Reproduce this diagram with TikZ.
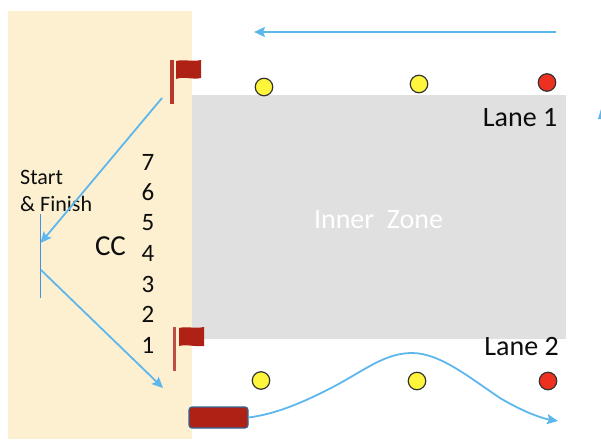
\documentclass[tikz,border=0pt]{standalone}
\usepackage{fontspec}
\setmainfont{Carlito}
\usetikzlibrary{arrows.meta}
\definecolor{sandzone}{HTML}{FCF0D1}
\definecolor{innerzone}{HTML}{E0E0E0}
\definecolor{flagred}{HTML}{AE2114}
\definecolor{arrowblue}{HTML}{5DB7EC}
\definecolor{lineblue}{HTML}{4A8FD8}
\definecolor{coneyellow}{HTML}{FFF53C}
\definecolor{conered}{HTML}{EE3020}
\tikzset{
  cone/.style={circle,draw=black!80,line width=1.2pt,minimum size=17.5pt,inner sep=0pt},
  pathline/.style={arrowblue,line width=1.8pt,-{Stealth[length=11pt,width=10pt,inset=2pt]}},
  lanelabel/.style={font=\fontsize{28}{32}\selectfont,black!95}
}
\begin{document}
\begin{tikzpicture}[x=1pt,y=-1pt]
    \useasboundingbox (0,0) rectangle (601,439);
    % Zones
    \fill[sandzone] (8,11) rectangle (191.5,439);
    \fill[innerzone] (192,95) rectangle (565.5,339);
    \node[white,font=\fontsize{28}{32}\selectfont] (inner) at (378.5,220) {Inner\ \ Zone};

    % Flags
    \fill[flagred!90!white] (170,60) rectangle (173.5,104); % Pole 1
    \fill[flagred] (176,61) .. controls (184,59) and (192,62) .. (201,60) -- (201,78) .. controls (192,80) and (184,76) .. (176,79) -- cycle;
    \fill[flagred!80!white] (172.5,327) rectangle (176,371); % Pole 2
    \fill[flagred] (179,328) .. controls (187,326) and (195,329) .. (204,327) -- (204,346) .. controls (195,347) and (187,344) .. (179,346) -- cycle;

    % Cones lane 1
    \node[cone,fill=coneyellow] (coneA) at (264,87) {};
    \node[cone,fill=coneyellow] (coneB) at (419,84) {};
    \node[cone,fill=conered] (coneC) at (547,82.5) {};
    % Cones lane 2
    \node[cone,fill=coneyellow] (coneD) at (261,380.5) {};
    \node[cone,fill=coneyellow] (coneE) at (417,381) {};
    \node[cone,fill=conered] (coneF) at (548,381) {};

    % Boat
    \node[draw=lineblue!70!black,fill=flagred,line width=1.2pt,rounded corners=3pt,minimum width=59pt,minimum height=21pt,inner sep=0pt] (boat) at (218.5,417.5) {};

    % Labels
    \node[lanelabel,anchor=east,inner sep=0pt] (laneA) at (557.5,117.5) {Lane 1};
    \node[lanelabel,anchor=east,inner sep=0pt] (laneB) at (559,346.5) {Lane 2};
    \node[font=\fontsize{29}{32}\selectfont,black!95] (cc) at (110.5,246.5) {CC};
    \node[anchor=west,font=\fontsize{22}{26}\selectfont,black!95,inner sep=0pt] (start) at (20,177) {Start};
    \node[anchor=west,font=\fontsize{22}{26}\selectfont,black!95,inner sep=0pt] (finish) at (20,203.5) {\&\ Finish};
    \foreach \n/\y in {7/162,6/192,5/222.5,4/253,3/284,2/314,1/345}
        \node[font=\fontsize{25}{28}\selectfont,black!95,inner sep=0pt] (num\n) at (148,\y) {\n};

    % Start line and course
    \coordinate (lineTop) at (40.5,214);
    \coordinate (lineBot) at (40.5,298);
    \coordinate (turnIn) at (162,98);
    \coordinate (turnEnd) at (40.5,243);
    \coordinate (startOut) at (41,270);
    \coordinate (startEnd) at (163,388);
    \coordinate (topFrom) at (556,32);
    \coordinate (topTo) at (254,32);
    \coordinate (laneEnd) at (558,421);
    \draw[lineblue,line width=1.6pt] (lineTop) -- (lineBot);
    \draw[pathline] (turnIn) -- (turnEnd);
    \draw[pathline] (startOut) -- (startEnd);
    \draw[pathline] (topFrom) -- (topTo);
    \draw[pathline] (boat.east) .. controls (275,414) and (300,404) .. (333,387) .. controls (365,370) and (385,353) .. (412,353) .. controls (440,353) and (470,378) .. (500,398) .. controls (520,410) and (540,418) .. (laneEnd);

    % Arrow tip cut off at the edge
    \fill[arrowblue] (601,109) -- (601,119) -- (598,119) -- cycle;
\end{tikzpicture}
\end{document}
